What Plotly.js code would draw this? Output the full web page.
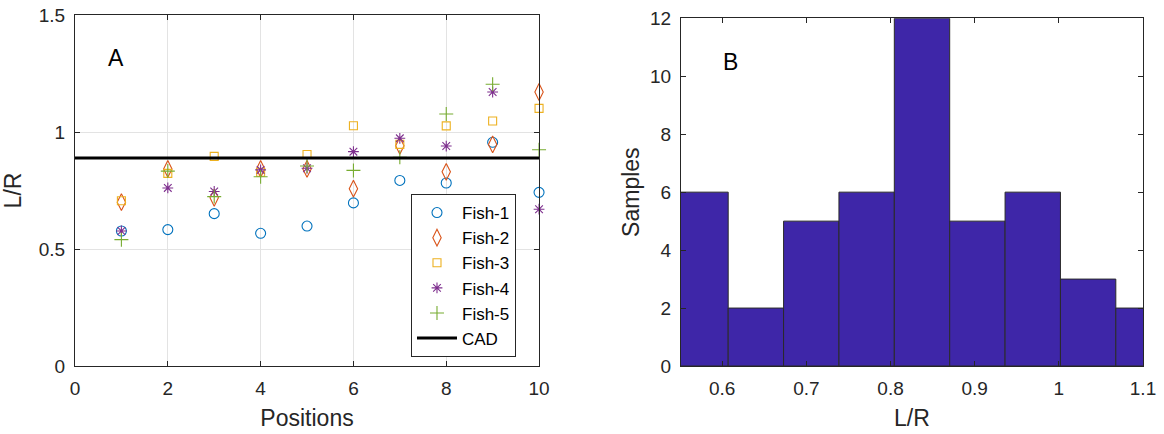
<!DOCTYPE html>
<html>
<head>
<meta charset="utf-8">
<script src="https://cdn.plot.ly/plotly-3.0.1.min.js"></script>
<style>html,body{margin:0;padding:0;background:#fff;}#chart{width:1164px;height:434px;}</style>
</head>
<body>
<div id="chart"></div>
<script>
// ---- Panel A data ----
const positions = [1, 2, 3, 4, 5, 6, 7, 8, 9, 10];
const fish1 = [0.577, 0.583, 0.651, 0.567, 0.598, 0.697, 0.793, 0.782, 0.956, 0.742];
const fish2 = [0.700, 0.842, 0.719, 0.842, 0.842, 0.758, 0.941, 0.830, 0.947, 1.171];
const fish3 = [0.706, 0.823, 0.896, 0.828, 0.904, 1.027, 0.947, 1.026, 1.047, 1.101];
const fish4 = [0.577, 0.761, 0.746, 0.838, 0.845, 0.916, 0.973, 0.940, 1.171, 0.670];
const fish5 = [0.540, 0.833, 0.724, 0.809, 0.855, 0.836, 0.892, 1.077, 1.204, 0.924];
const cadValue = 0.889;
const cadSpan = [0, 10];
const seriesNames = ['Fish-1', 'Fish-2', 'Fish-3', 'Fish-4', 'Fish-5'];

// ---- Panel B data (histogram of L/R) ----
const binEdges = [0.5413, 0.6071, 0.6729, 0.7387, 0.8045, 0.8703, 0.9361, 1.0019, 1.0677, 1.1335];
const binCounts = [6, 2, 5, 6, 12, 5, 6, 3, 2];

const txt = '#262626';
const font = 'Liberation Sans, Arial, sans-serif';

const colors = ['#0072BD', '#D95319', '#EDB120', '#7E2F8E', '#77AC30'];
const symbols = ['circle-open', 'diamond-tall-open', 'square-open', 'asterisk-open', 'cross-thin-open'];
const sizes = [10, 12, 8, 9, 10];
const fishData = [fish1, fish2, fish3, fish4, fish5];

const traces = fishData.map((ys, i) => ({
  type: 'scatter', mode: 'markers', x: positions, y: ys, name: seriesNames[i],
  xaxis: 'x', yaxis: 'y', cliponaxis: false,
  marker: {symbol: symbols[i], size: sizes[i], color: colors[i], line: {color: colors[i], width: 1.1}}
}));
traces.push({
  type: 'scatter', mode: 'lines', x: cadSpan, y: [cadValue, cadValue], name: 'CAD',
  xaxis: 'x', yaxis: 'y',
  line: {color: '#000', width: 3}
});

const centers = binCounts.map((_, i) => (binEdges[i] + binEdges[i + 1]) / 2);
const widths = binCounts.map((_, i) => binEdges[i + 1] - binEdges[i]);
traces.push({
  type: 'bar', x: centers, y: binCounts, width: widths, xaxis: 'x2', yaxis: 'y2',
  showlegend: false,
  marker: {color: '#3E26A8', line: {color: '#2a2a2a', width: 1}}
});

const axCommon = {
  showline: true, linecolor: txt, linewidth: 1, mirror: 'allticks',
  ticks: 'inside', ticklen: 5, tickcolor: txt, tickwidth: 1,
  tickfont: {family: font, size: 19, color: txt}, zeroline: false
};
const titleFont = {family: font, size: 23, color: txt};

const layout = {
  width: 1164, height: 434,
  margin: {l: 75, r: 21, t: 15, b: 68},
  paper_bgcolor: '#fff', plot_bgcolor: '#fff',
  font: {family: font, color: txt},
  showlegend: true,
  bargap: 0,
  xaxis: Object.assign({}, axCommon, {
    domain: [0, 0.4345], range: [0, 10], tickvals: [0, 2, 4, 6, 8, 10],
    showgrid: true, gridcolor: '#e3e3e3', gridwidth: 1, ticklabelstandoff: 5,
    title: {text: 'Positions', font: titleFont, standoff: 12}
  }),
  yaxis: Object.assign({}, axCommon, {
    domain: [0, 1], range: [0, 1.5], tickvals: [0, 0.5, 1, 1.5],
    showgrid: true, gridcolor: '#e3e3e3', gridwidth: 1, ticklabelstandoff: 5,
    title: {text: 'L/R', font: titleFont, standoff: 11}
  }),
  xaxis2: Object.assign({}, axCommon, {
    anchor: 'y2', domain: [0.5674, 1], range: [0.551, 1.1], tickvals: [0.6, 0.7, 0.8, 0.9, 1, 1.1],
    ticktext: ['0.6', '0.7', '0.8', '0.9', '1', '1.1'], showgrid: false, ticklabelstandoff: 5,
    title: {text: 'L/R', font: titleFont, standoff: 12}
  }),
  yaxis2: Object.assign({}, axCommon, {
    anchor: 'x2', domain: [0, 0.9906], range: [0, 12], tickvals: [0, 2, 4, 6, 8, 10, 12], showgrid: false,
    ticklabelstandoff: 5,
    title: {text: 'Samples', font: titleFont, standoff: 3}
  }),
  legend: {
    x: 0.3146, y: 0.49, xanchor: 'left', yanchor: 'top',
    bgcolor: '#fff', bordercolor: '#262626', borderwidth: 1,
    font: {family: font, size: 17, color: '#000'},
    itemwidth: 40
  },
  annotations: [
    {xref: 'x', yref: 'y', x: 0.89, y: 1.316, text: 'A', showarrow: false, font: {family: font, size: 23, color: '#000'}},
    {xref: 'x2', yref: 'y2', x: 0.6098, y: 10.5, text: 'B', showarrow: false, font: {family: font, size: 23, color: '#000'}}
  ]
};

Plotly.newPlot('chart', traces, layout, {displayModeBar: false, staticPlot: true});
</script>
</body>
</html>
